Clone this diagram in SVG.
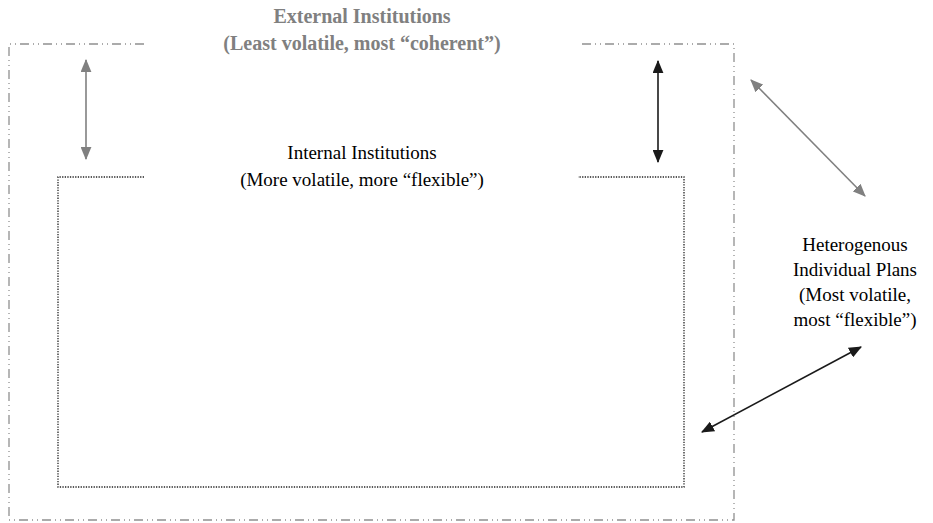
<svg xmlns="http://www.w3.org/2000/svg" width="933" height="523" viewBox="0 0 933 523">
<style>
.t{font-family:"Liberation Serif","Times New Roman",serif;font-size:19px;text-anchor:middle;fill:#000}
.tb{font-family:"Liberation Serif","Times New Roman",serif;font-size:20px;font-weight:bold;text-anchor:middle;fill:#808080}
.outer{fill:none;stroke:#909090;stroke-width:1.3;stroke-dasharray:9 4 1 4 1 4}
.inner{fill:none;stroke:#222;stroke-width:1.3;stroke-dasharray:1.3 1.3}
.ag{stroke:#808080;stroke-width:1.6;fill:none}
.ab{stroke:#1a1a1a;stroke-width:1.6;fill:none}
</style>
<defs>
<marker id="mg" viewBox="0 0 12 10" refX="11" refY="5" markerWidth="13" markerHeight="11" markerUnits="userSpaceOnUse" orient="auto-start-reverse"><path d="M0,0 L12,5 L0,10 z" fill="#808080"/></marker>
<marker id="mb" viewBox="0 0 12 10" refX="11" refY="5" markerWidth="13" markerHeight="11" markerUnits="userSpaceOnUse" orient="auto-start-reverse"><path d="M0,0 L12,5 L0,10 z" fill="#1a1a1a"/></marker>
</defs>
<g id="external">
<path class="outer" d="M144,44 L9,44 L9,520 L734,520 L734,44 L578,44"/>
<text class="tb" x="362" y="23">External Institutions</text>
<text class="tb" x="362" y="50">(Least volatile, most “coherent”)</text>
</g>
<g id="internal">
<path class="inner" d="M144,177 L58,177 L58,487 L684,487 L684,177 L578,177"/>
<text class="t" x="362" y="159">Internal Institutions</text>
<text class="t" x="362" y="186">(More volatile, more “flexible”)</text>
</g>
<g id="individual">
<text class="t" x="855" y="251">Heterogenous</text>
<text class="t" x="855" y="276">Individual Plans</text>
<text class="t" x="855" y="301">(Most volatile,</text>
<text class="t" x="855" y="326">most “flexible”)</text>
</g>
<g id="connectors">
<line class="ag" x1="86" y1="60" x2="86" y2="159" marker-start="url(#mg)" marker-end="url(#mg)"/>
<line class="ab" x1="658" y1="61" x2="658" y2="162" marker-start="url(#mb)" marker-end="url(#mb)"/>
<line class="ag" x1="751" y1="80" x2="865" y2="196" marker-start="url(#mg)" marker-end="url(#mg)"/>
<line class="ab" x1="702" y1="432" x2="861" y2="347" marker-start="url(#mb)" marker-end="url(#mb)"/>
</g>
</svg>
